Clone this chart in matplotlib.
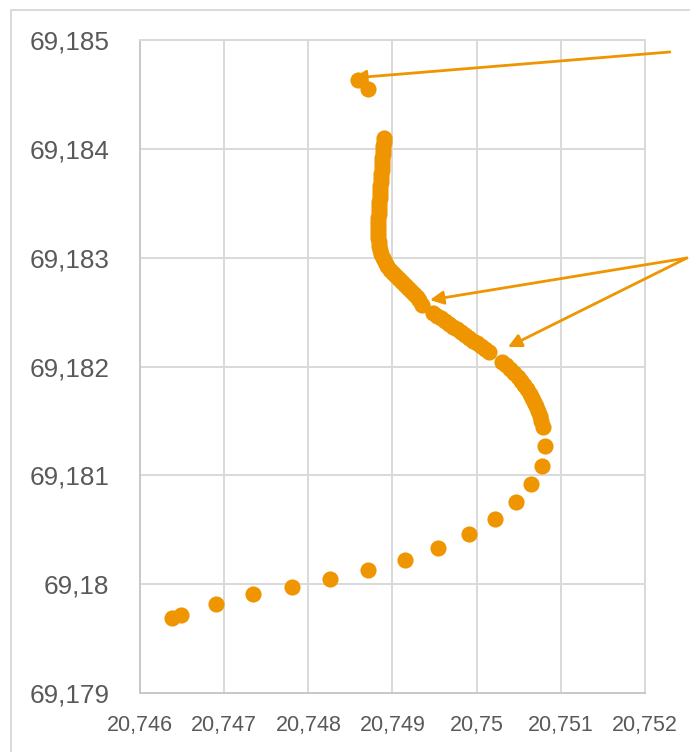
import matplotlib
matplotlib.use('Agg')
from matplotlib import pyplot as plt
from matplotlib.patches import Rectangle
from matplotlib.ticker import FixedLocator, FixedFormatter

# ticks
x_ticks = [20.746, 20.747, 20.748, 20.749, 20.750, 20.751, 20.752]
y_ticks = [69.179, 69.180, 69.181, 69.182, 69.183, 69.184, 69.185]
x_labels = ['20,746', '20,747', '20,748', '20,749', '20,75', '20,751', '20,752']
y_labels = ['69,179', '69,18', '69,181', '69,182', '69,183', '69,184', '69,185']

# track points (lon, lat)
top_x = [20.748590, 20.748709]
top_y = [69.184632, 69.184550]

dense_x = [20.748899, 20.748899, 20.748887, 20.748887, 20.748887, 20.748875, 20.748875,
           20.748875, 20.748875, 20.748863, 20.748863, 20.748863, 20.748851, 20.748851,
           20.748851, 20.748851, 20.748839, 20.748839, 20.748839, 20.748839, 20.748827,
           20.748827, 20.748827, 20.748827, 20.748827, 20.748827, 20.748839, 20.748839,
           20.748851, 20.748863, 20.748887, 20.748911, 20.748934, 20.748970, 20.749006,
           20.749041, 20.749077, 20.749113, 20.749148, 20.749184, 20.749220, 20.749255,
           20.749291, 20.749315, 20.749350,
           20.749481, 20.749528, 20.749576, 20.749623, 20.749671, 20.749718, 20.749766,
           20.749814, 20.749861, 20.749909, 20.749956, 20.750004, 20.750051, 20.750099,
           20.750146,
           20.750301, 20.750348, 20.750396, 20.750443, 20.750491, 20.750526, 20.750562,
           20.750598, 20.750633, 20.750657, 20.750681, 20.750705, 20.750728, 20.750752,
           20.750764, 20.750788]
dense_y = [69.184100, 69.184063, 69.184026, 69.183989, 69.183952, 69.183916, 69.183879,
           69.183842, 69.183805, 69.183769, 69.183732, 69.183695, 69.183658, 69.183622,
           69.183585, 69.183548, 69.183511, 69.183475, 69.183438, 69.183401, 69.183364,
           69.183328, 69.183291, 69.183254, 69.183217, 69.183181, 69.183144, 69.183107,
           69.183070, 69.183034, 69.182997, 69.182960, 69.182923, 69.182887, 69.182859,
           69.182831, 69.182804, 69.182776, 69.182749, 69.182721, 69.182694, 69.182666,
           69.182638, 69.182611, 69.182565,
           69.182491, 69.182464, 69.182445, 69.182418, 69.182390, 69.182363, 69.182344,
           69.182317, 69.182289, 69.182262, 69.182234, 69.182216, 69.182188, 69.182161,
           69.182133,
           69.182041, 69.182014, 69.181977, 69.181940, 69.181903, 69.181867, 69.181830,
           69.181793, 69.181747, 69.181710, 69.181674, 69.181637, 69.181591, 69.181545,
           69.181499, 69.181444]

sparse_x = [20.750811, 20.750776, 20.750645, 20.750467, 20.750217, 20.749909, 20.749540,
            20.749148, 20.748709, 20.748257, 20.747806, 20.747342, 20.746903, 20.746487,
            20.746380]
sparse_y = [69.181269, 69.181085, 69.180920, 69.180755, 69.180598, 69.180461, 69.180332,
            69.180222, 69.180130, 69.180047, 69.179974, 69.179909, 69.179817, 69.179716,
            69.179689]

# arrows: (tail, head)
arrows = [((20.752296, 69.184890), (20.748530, 69.184651)),
          ((20.752498, 69.182997), (20.749445, 69.182611)),
          ((20.752498, 69.182997), (20.750372, 69.182179))]

orange = '#EE9500'
grid = '#D9D9D9'
txt = '#595959'

fig = plt.figure(figsize=(6.9, 7.52), dpi=100)
ax = fig.add_axes([140 / 690, 1 - 693 / 752, 505 / 690, 653 / 752])

all_x = top_x + dense_x + sparse_x
all_y = top_y + dense_y + sparse_y
ax.scatter(all_x, all_y, s=135, color=orange, linewidths=0, zorder=3)

for (tx, ty), (hx, hy) in arrows:
    ax.annotate('', xy=(hx, hy), xytext=(tx, ty), xycoords='data', textcoords='data',
                annotation_clip=False,
                arrowprops=dict(arrowstyle='-|>', color=orange, lw=2,
                                mutation_scale=20, shrinkA=0, shrinkB=0),
                zorder=4)

ax.set_xlim(x_ticks[0], x_ticks[-1])
ax.set_ylim(y_ticks[0], y_ticks[-1])
ax.xaxis.set_major_locator(FixedLocator(x_ticks))
ax.yaxis.set_major_locator(FixedLocator(y_ticks))
ax.xaxis.set_major_formatter(FixedFormatter(x_labels))
ax.yaxis.set_major_formatter(FixedFormatter(y_labels))
ax.grid(True, color=grid, lw=1.4)
ax.set_axisbelow(True)
for s in ax.spines.values():
    s.set_color(grid)
    s.set_linewidth(1.4)
ax.spines['left'].set_color('#C8C8C8')
ax.spines['bottom'].set_color('#C8C8C8')
ax.tick_params(length=0, colors=txt)
ax.tick_params(axis='y', pad=22, labelsize=18.8)
ax.tick_params(axis='x', pad=16, labelsize=15.5)
for lab in ax.get_xticklabels() + ax.get_yticklabels():
    lab.set_family(['Liberation Sans', 'DejaVu Sans'])

# chart frame
fig.patches.append(Rectangle((11 / 690, -0.1), 1.2, 1.1 - 10 / 752, transform=fig.transFigure,
                             fill=False, edgecolor=grid, lw=1.4))

plt.savefig('out.png', dpi=100)
